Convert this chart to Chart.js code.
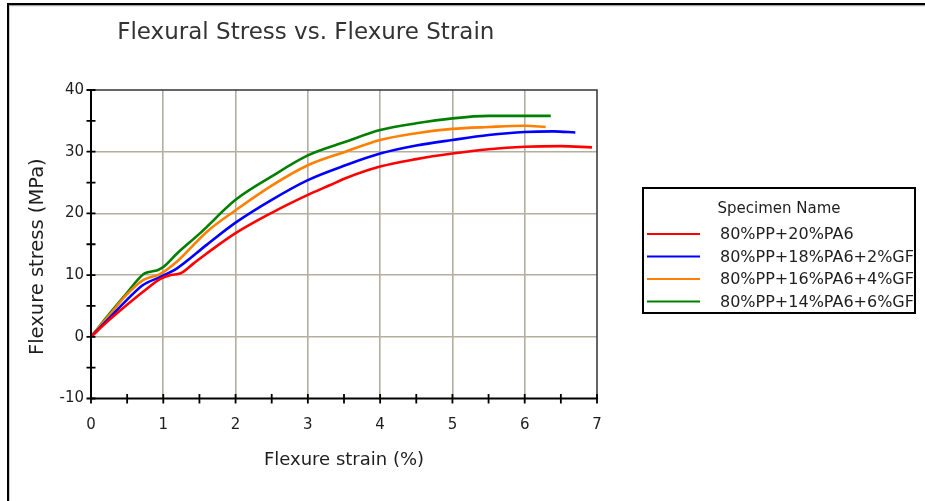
<!DOCTYPE html>
<html><head><meta charset="utf-8">
<script src="https://cdn.jsdelivr.net/npm/chart.js@4"></script>
<style>html,body{margin:0;padding:0;background:#fff;}#wrap{position:relative;width:925px;height:501px;}</style>
</head><body><div id="wrap"><canvas id="c"></canvas></div>
<script>
const chartTitle = '  Flexural Stress vs. Flexure Strain';
const xTitle = 'Flexure strain (%)';
const yTitle = 'Flexure stress (MPa)    ';
const legendTitle = 'Specimen Name';
const seriesNames = ['80%PP+20%PA6', '80%PP+18%PA6+2%GF', '80%PP+16%PA6+4%GF', '80%PP+14%PA6+6%GF'];
const seriesColors = ['#ff0000', '#0000ff', '#ff8000', '#008000'];

const strainRed = [0, 0.25, 0.49, 0.72, 0.96, 1.1, 1.24, 1.42, 1.6, 2.0, 2.5, 3.0, 3.31, 3.52, 4.0, 4.5, 5.0, 5.5, 6.0, 6.5, 6.93];
const stressRed = [0, 2.7, 5.1, 7.3, 9.4, 10.0, 10.3, 11.9, 13.5, 16.8, 20.1, 23.0, 24.6, 25.7, 27.6, 28.8, 29.7, 30.4, 30.8, 30.9, 30.7];

const strainBlue = [0, 0.25, 0.49, 0.72, 0.96, 1.19, 1.6, 2.0, 2.5, 3.0, 3.52, 4.0, 4.5, 5.0, 5.5, 6.0, 6.4, 6.70];
const stressBlue = [0, 3.0, 5.9, 8.4, 9.7, 11.1, 14.9, 18.5, 22.2, 25.4, 27.8, 29.7, 31.0, 31.9, 32.7, 33.2, 33.3, 33.1];

const strainOrange = [0, 0.26, 0.49, 0.72, 0.96, 1.19, 1.6, 2.0, 2.5, 3.0, 3.52, 4.0, 4.5, 5.0, 5.5, 6.0, 6.29];
const stressOrange = [0, 3.6, 6.8, 9.2, 10.2, 12.2, 17.0, 20.5, 24.5, 27.8, 30.0, 31.9, 33.0, 33.7, 34.0, 34.2, 34.0];

const strainGreen = [0, 0.26, 0.49, 0.72, 0.8, 0.92, 1.0, 1.19, 1.51, 2.0, 2.5, 3.0, 3.52, 4.0, 4.5, 5.0, 5.5, 6.0, 6.36];
const stressGreen = [0, 3.8, 7.0, 10.1, 10.5, 10.8, 11.3, 13.5, 16.8, 22.2, 26.0, 29.4, 31.6, 33.5, 34.6, 35.4, 35.8, 35.8, 35.8];

const strains = [strainRed, strainBlue, strainOrange, strainGreen];
const stresses = [stressRed, stressBlue, stressOrange, stressGreen];

const xMin = 0, xMax = 7, xMinorStep = 0.5;
const yMin = -10, yMax = 40, yMinorStep = 5;

const FONT = 'DejaVu Sans';
const TEXT = '#1e1e1e';

const datasets = seriesNames.map((name, i) => ({
  label: name,
  data: strains[i].map((x, j) => ({x: x, y: stresses[i][j]})),
  borderColor: seriesColors[i],
  backgroundColor: seriesColors[i],
  borderWidth: 2.6,
  pointRadius: 0,
  tension: 0.35,
  cubicInterpolationMode: 'monotone',
  fill: false
}));

const decor = {
  id: 'decor',
  beforeDraw(chart) {
    const c = chart.ctx;
    c.save();
    c.fillStyle = '#fff';
    c.fillRect(0, 0, chart.width, chart.height);
    c.restore();
  },
  afterDraw(chart) {
    const c = chart.ctx;
    const a = chart.chartArea;
    const xs = chart.scales.x, ys = chart.scales.y;
    c.save();
    c.fillStyle = '#000';
    c.fillRect(7, 3, chart.width - 7, 2.2);
    c.fillRect(7, 3, 2.2, chart.height - 3);
    c.fillStyle = '#9a9a9a';
    c.fillRect(9, 5.2, chart.width - 9, 1);
    c.strokeStyle = '#333';
    c.lineWidth = 1.5;
    c.beginPath();
    c.moveTo(a.left, a.top); c.lineTo(a.right, a.top); c.lineTo(a.right, a.bottom);
    c.stroke();
    c.strokeStyle = '#000';
    c.lineWidth = 2;
    c.beginPath();
    c.moveTo(a.left, a.top - 1); c.lineTo(a.left, a.bottom);
    c.lineTo(a.right + 1, a.bottom);
    c.stroke();
    c.lineWidth = 1.8;
    c.beginPath();
    for (let v = xMin; v <= xMax + 1e-9; v += xMinorStep) {
      const px = xs.getPixelForValue(v);
      c.moveTo(px, a.bottom - 4.5); c.lineTo(px, a.bottom + 5);
    }
    for (let v = yMin; v <= yMax + 1e-9; v += yMinorStep) {
      const py = ys.getPixelForValue(v);
      c.moveTo(a.left - 4.5, py); c.lineTo(a.left + 4.5, py);
    }
    c.stroke();
    const bx = 643, by = 188, bw = 272, bh = 125;
    c.lineWidth = 2;
    c.strokeStyle = '#000';
    c.strokeRect(bx, by, bw, bh);
    c.fillStyle = TEXT;
    c.textBaseline = 'middle';
    c.textAlign = 'center';
    c.font = '15px "' + FONT + '"';
    c.fillText(legendTitle, bx + bw / 2, 209);
    c.textAlign = 'left';
    c.font = '16px "' + FONT + '"';
    chart.data.datasets.forEach((ds, i) => {
      const yy = 234 + i * 22.5;
      c.strokeStyle = ds.borderColor;
      c.lineWidth = 2.2;
      c.beginPath(); c.moveTo(647, yy); c.lineTo(700, yy); c.stroke();
      c.fillStyle = TEXT;
      c.fillText(ds.label, 720, yy + 1);
    });
    c.restore();
  }
};

new Chart(document.getElementById('c'), {
  type: 'line',
  data: { datasets: datasets },
  plugins: [decor],
  options: {
    responsive: true,
    maintainAspectRatio: false,
    animation: false,
    devicePixelRatio: 1,
    layout: { padding: { left: 0, right: 328, top: 0, bottom: 0 } },
    plugins: {
      legend: { display: false },
      tooltip: { enabled: false },
      title: {
        display: true,
        text: chartTitle,
        color: '#333',
        font: { family: FONT, size: 23, weight: 'normal', lineHeight: 1.2 },
        padding: { top: 19, bottom: 43.4 }
      }
    },
    scales: {
      x: {
        type: 'linear',
        min: xMin, max: xMax,
        afterFit: s => { s.height = 102.5; },
        border: { display: false },
        grid: {
          drawTicks: false,
          lineWidth: 1.6,
          color: ctx => (ctx.tick && Number.isInteger(ctx.tick.value) && ctx.tick.value > xMin && ctx.tick.value < xMax) ? '#b3ae9f' : 'rgba(0,0,0,0)'
        },
        ticks: {
          stepSize: xMinorStep,
          padding: 18,
          color: TEXT,
          font: { family: FONT, size: 15 },
          maxRotation: 0,
          autoSkip: false,
          callback: v => Number.isInteger(v) ? String(v) : ''
        },
        title: {
          display: true, text: xTitle, color: TEXT,
          font: { family: FONT, size: 18 },
          padding: { top: 0, bottom: 30 }
        }
      },
      y: {
        type: 'linear',
        min: yMin, max: yMax,
        afterFit: s => { s.width = 91; },
        border: { display: false },
        grid: {
          drawTicks: false,
          lineWidth: 1.6,
          color: ctx => (ctx.tick && ctx.tick.value % 10 === 0 && ctx.tick.value > yMin && ctx.tick.value < yMax) ? '#b3ae9f' : 'rgba(0,0,0,0)'
        },
        ticks: {
          stepSize: yMinorStep,
          padding: 7,
          color: TEXT,
          font: { family: FONT, size: 15 },
          autoSkip: false,
          callback: v => (v % 10 === 0) ? String(v) : ''
        },
        title: {
          display: true, text: yTitle, color: TEXT,
          font: { family: FONT, size: 19.5 },
          padding: { top: 26, bottom: 0 }
        }
      }
    }
  }
});
</script>
</body></html>
